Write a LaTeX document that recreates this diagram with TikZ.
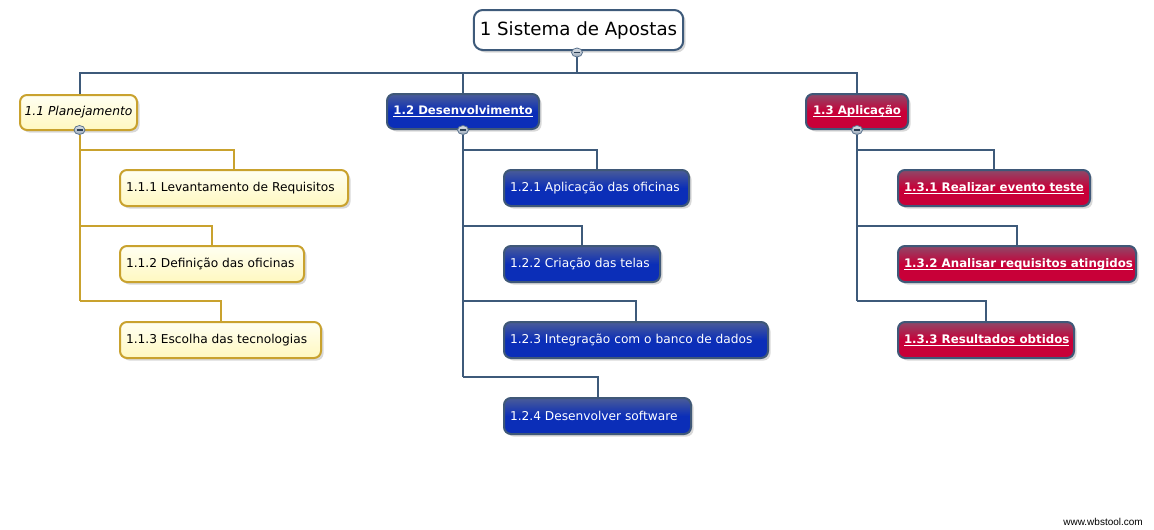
\documentclass[tikz,border=0pt]{standalone}
\usepackage{fontspec}
\setmainfont{DejaVu Sans}
\newfontfamily\wbsfont{Liberation Sans}
\usetikzlibrary{shadows,shapes.geometric,calc}
\definecolor{slate}{HTML}{3E5A7A}
\definecolor{goldl}{HTML}{C9A22E}
\definecolor{yelbot}{HTML}{FFF8C0}
\definecolor{yeltop}{HTML}{FFFFF2}
\definecolor{bluetop}{HTML}{4A5C98}
\definecolor{bluemain}{HTML}{0B2EB8}
\definecolor{redtop}{HTML}{8E4868}
\definecolor{redmain}{HTML}{C80038}
\definecolor{boxedge}{HTML}{3F5878}
\newcommand\myul[1]{{\setbox0\hbox{#1}\rlap{\rule[-2.2pt]{\wd0}{0.9pt}}\copy0}}
\newcommand\lft[2]{\makebox[#1][l]{#2}}
\pgfdeclarelayer{back}
\pgfdeclarelayer{bg}
\pgfsetlayers{back,bg,main}
\tikzset{
  box/.style={rounded corners=7pt, line width=2pt, inner xsep=6pt, inner ysep=0pt,
    minimum height=36pt,
    drop shadow={opacity=0.3, shadow xshift=2.5pt, shadow yshift=-2.5pt}},
  rootbox/.style={box, draw=slate, fill=white, rounded corners=9pt,
    font=\fontsize{18.2}{21}\selectfont},
  yelbox/.style={box, draw=goldl, top color=yeltop, bottom color=yelbot, text=black,
    font=\fontsize{12.2}{15}\selectfont},
  bluebox/.style={box, draw=boxedge, top color=bluetop, bottom color=bluemain, middle color=bluemain,
    text=white, font=\fontsize{12.2}{15}\selectfont},
  redbox/.style={box, draw=boxedge, top color=redtop, bottom color=redmain, middle color=redmain,
    text=white, font=\bfseries\fontsize{11.8}{14}\selectfont},
  lvlone/.style={minimum height=35pt, inner xsep=3pt},
  collapse/.style={ellipse, draw=slate!85, line width=0.8pt, inner sep=0pt,
    minimum width=11pt, minimum height=9pt, top color=white!80!slate, bottom color=slate!50,
    path picture={\draw[line width=1.5pt, color=slate!70!black]
      ($(path picture bounding box.center)+(-3pt,0)$) -- ($(path picture bounding box.center)+(3pt,0)$);}},
  sl/.style={draw=slate, line width=2pt},
  gl/.style={draw=goldl, line width=2pt},
}
\begin{document}
\begin{tikzpicture}[x=1pt,y=-1pt]
\useasboundingbox (0,0) rectangle (1154,530);
\begin{pgfonlayer}{back}
  \fill[white] (0,0) rectangle (1154,530);
\end{pgfonlayer}
\coordinate (top) at (0,73);
\coordinate (h1) at (0,150);
\coordinate (h2) at (0,226);
\coordinate (h3) at (0,301);
\coordinate (h4) at (0,377);

% root
\node[rootbox, minimum width=209pt, minimum height=40pt] (root) at (578.5,30) {1 Sistema de Apostas};

% level 1
\node[yelbox, lvlone, minimum width=117pt, font=\itshape\fontsize{12.3}{15}\selectfont] (p11) at (78.5,112.5) {1.1 Planejamento};
\node[bluebox, lvlone, minimum width=152pt, font=\bfseries\fontsize{11.7}{14}\selectfont] (p12) at (463,111.5) {\myul{1.2 Desenvolvimento}};
\node[redbox, lvlone, minimum width=102pt, font=\bfseries\fontsize{11.7}{14}\selectfont] (p13) at (857,111.5) {\myul{1.3 Aplicação}};

% level 2 - planejamento
\node[yelbox, anchor=north west] (c111) at (119,169) {\lft{216pt}{1.1.1 Levantamento de Requisitos}};
\node[yelbox, anchor=north west] (c112) at (119,245) {\lft{172pt}{1.1.2 Definição das oficinas}};
\node[yelbox, anchor=north west] (c113) at (119,321) {\lft{189pt}{1.1.3 Escolha das tecnologias}};

% level 2 - desenvolvimento
\node[bluebox, anchor=north west] (c121) at (503,169) {\lft{173pt}{1.2.1 Aplicação das oficinas}};
\node[bluebox, anchor=north west] (c122) at (503,245) {\lft{144pt}{1.2.2 Criação das telas}};
\node[bluebox, anchor=north west] (c123) at (503,321) {\lft{252pt}{1.2.3 Integração com o banco de dados}};
\node[bluebox, anchor=north west] (c124) at (503,397) {\lft{175pt}{1.2.4 Desenvolver software}};

% level 2 - aplicacao
\node[redbox, anchor=north west] (c131) at (897,169) {\lft{180pt}{\myul{1.3.1 Realizar evento teste}}};
\node[redbox, anchor=north west] (c132) at (897,245) {\lft{226pt}{\myul{1.3.2 Analisar requisitos atingidos}}};
\node[redbox, anchor=north west] (c133) at (897,321) {\lft{164pt}{\myul{1.3.3 Resultados obtidos}}};

% collapse markers
\node[collapse] (k0) at (577,52.5) {};
\node[collapse] (k1) at (79.5,130) {};
\node[collapse] (k2) at (463,130) {};
\node[collapse] (k3) at (857,130) {};

% watermark
\node[font=\wbsfont\fontsize{10}{12}\selectfont, anchor=east, inner sep=0pt] (wm) at (1143,521.5) {www.wbstool.com};

\begin{pgfonlayer}{bg}
  % root connectors
  \draw[sl] (k0) -- (k0 |- top);
  \draw[sl] (p11.north -| k1) |- (top -| p13.north) -- (p13.north);
  \draw[sl] (p12.north) -- (p12.north |- top);
  % planejamento
  \draw[gl] (k1) -- (k1 |- h3);
  \draw[gl] (k1 |- h1) -| (c111.north);
  \draw[gl] (k1 |- h2) -| (c112.north);
  \draw[gl] (k1 |- h3) -| (c113.north);
  % desenvolvimento
  \draw[sl] (k2) -- (k2 |- h4);
  \draw[sl] (k2 |- h1) -| (c121.north);
  \draw[sl] (k2 |- h2) -| (c122.north);
  \draw[sl] (k2 |- h3) -| (c123.north);
  \draw[sl] (k2 |- h4) -| (c124.north);
  % aplicacao
  \draw[sl] (k3) -- (k3 |- h3);
  \draw[sl] (k3 |- h1) -| (c131.north);
  \draw[sl] (k3 |- h2) -| (c132.north);
  \draw[sl] (k3 |- h3) -| (c133.north);
\end{pgfonlayer}
\end{tikzpicture}
\end{document}
